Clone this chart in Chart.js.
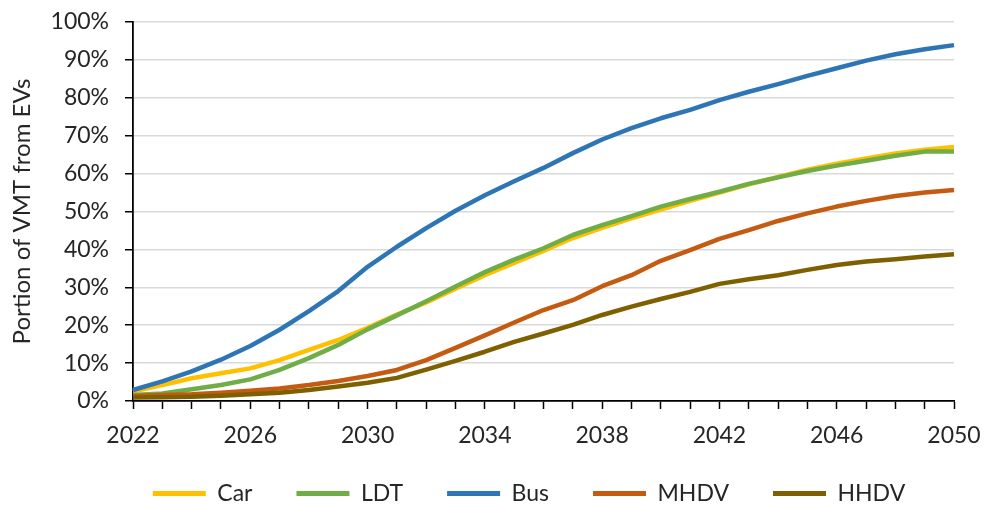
<!DOCTYPE html>
<html>
<head>
<meta charset="utf-8">
<script src="https://cdn.jsdelivr.net/npm/chart.js@4.4.1/dist/chart.umd.min.js"></script>
<style>
  html, body { margin: 0; padding: 0; background: #ffffff; }
  #wrap { width: 986px; height: 506px; }
</style>
</head>
<body>
<div id="wrap"><canvas id="c" width="986" height="506"></canvas></div>
<script>
const years = [2022,2023,2024,2025,2026,2027,2028,2029,2030,2031,2032,2033,2034,2035,2036,2037,2038,2039,2040,2041,2042,2043,2044,2045,2046,2047,2048,2049,2050];
const seriesNames = ['Car','LDT','Bus','MHDV','HHDV'];
const car  = [2.5,4.2,6.0,7.3,8.6,10.8,13.5,16.1,19.3,22.8,26.0,29.6,33.2,36.4,39.6,43.0,45.7,48.2,50.5,52.8,55.0,57.2,59.1,61.0,62.6,64.0,65.3,66.3,67.0];
const ldt  = [1.6,2.0,3.1,4.2,5.7,8.2,11.3,14.8,18.9,22.6,26.3,30.2,34.0,37.3,40.3,43.8,46.4,48.8,51.3,53.3,55.2,57.3,59.0,60.7,62.1,63.4,64.7,65.8,65.8];
const bus  = [2.9,5.2,7.8,10.9,14.5,18.8,23.7,29.0,35.4,40.7,45.6,50.2,54.3,58.0,61.5,65.4,69.0,72.0,74.6,76.8,79.4,81.6,83.6,85.8,87.8,89.8,91.5,92.8,93.9];
const mhdv = [1.3,1.6,1.8,2.2,2.7,3.3,4.2,5.3,6.6,8.2,10.8,14.0,17.3,20.7,24.0,26.6,30.3,33.2,37.0,39.8,42.8,45.1,47.5,49.5,51.3,52.8,54.1,55.0,55.7];
const hhdv = [0.9,1.0,1.1,1.4,1.8,2.2,2.9,3.8,4.8,6.1,8.3,10.6,13.0,15.6,17.8,20.1,22.7,24.9,26.9,28.8,30.9,32.1,33.2,34.6,35.9,36.8,37.4,38.1,38.7];
const yTickValues = [0,10,20,30,40,50,60,70,80,90,100];
const xLabelEvery = 4;
const yTitle = 'Portion of VMT from EVs';

const colors = ['#FFC000','#70AD47','#2E75B6','#C55A11','#7F6000'];
const allSeries = [car, ldt, bus, mhdv, hhdv];
const FONT = 'Lato, "Open Sans", sans-serif';
const TXT = '#262626';

const datasets = allSeries.map((vals, i) => ({
  label: seriesNames[i],
  data: vals,
  borderColor: colors[i],
  backgroundColor: colors[i],
  borderWidth: 4.5,
  pointRadius: 0,
  tension: 0,
  fill: false,
  borderJoinStyle: 'round',
  order: -i
}));

// move the legend row into place (tighter gap above than between items)
const legendShift = {
  id: 'legendShift',
  afterLayout(chart) {
    const lg = chart.legend;
    if (!lg) return;
    lg.top -= 12;
    lg.left += 48;
    lg.right += 48;
    lg.bottom = chart.height + 60;
  }
};

new Chart(document.getElementById('c'), {
  type: 'line',
  data: { labels: years.map(String), datasets },
  plugins: [legendShift],
  options: {
    responsive: false,
    animation: false,
    layout: { padding: { left: 8, right: 32, top: 22, bottom: 2 } },
    plugins: {
      tooltip: { enabled: false },
      legend: {
        position: 'bottom',
        maxHeight: 54,
        labels: {
          font: { family: FONT, size: 23 },
          color: TXT,
          boxWidth: 53,
          boxHeight: 5,
          padding: 44,
          generateLabels: (chart) => chart.data.datasets.map((ds, i) => ({
            text: ds.label,
            fillStyle: ds.borderColor,
            strokeStyle: ds.borderColor,
            lineWidth: 0,
            hidden: false,
            datasetIndex: i,
            fontColor: TXT
          }))
        }
      }
    },
    scales: {
      x: {
        type: 'category',
        offset: false,
        afterFit: (axis) => { axis.paddingLeft = 0; axis.paddingRight = 0; axis.height = 49; },
        grid: { drawOnChartArea: false, drawTicks: true, tickLength: 8, tickColor: '#000', tickWidth: 1.5 },
        border: { color: '#000', width: 1.8 },
        ticks: {
          autoSkip: false,
          maxRotation: 0,
          padding: 13,
          color: TXT,
          font: { family: FONT, size: 23 },
          callback: function(val, idx) { return (idx % xLabelEvery === 0) ? this.getLabelForValue(val) : ''; }
        }
      },
      y: {
        min: 0,
        max: 100,
        afterBuildTicks: (axis) => { axis.ticks = yTickValues.map(v => ({ value: v })); },
        afterFit: (axis) => { axis.width = 125; axis.paddingTop = 0; axis.paddingBottom = 0; },
        grid: { color: '#d9d9d9', lineWidth: 1.5, tickLength: 8, tickColor: '#000', tickWidth: 1.5 },
        border: { color: '#000', width: 1.8 },
        ticks: {
          padding: 16,
          color: TXT,
          font: { family: FONT, size: 23 },
          callback: (v) => v + '%'
        },
        title: {
          display: true,
          text: yTitle,
          color: TXT,
          font: { family: FONT, size: 24 },
          padding: { top: 0, bottom: 6 }
        }
      }
    }
  }
});
</script>
</body>
</html>
